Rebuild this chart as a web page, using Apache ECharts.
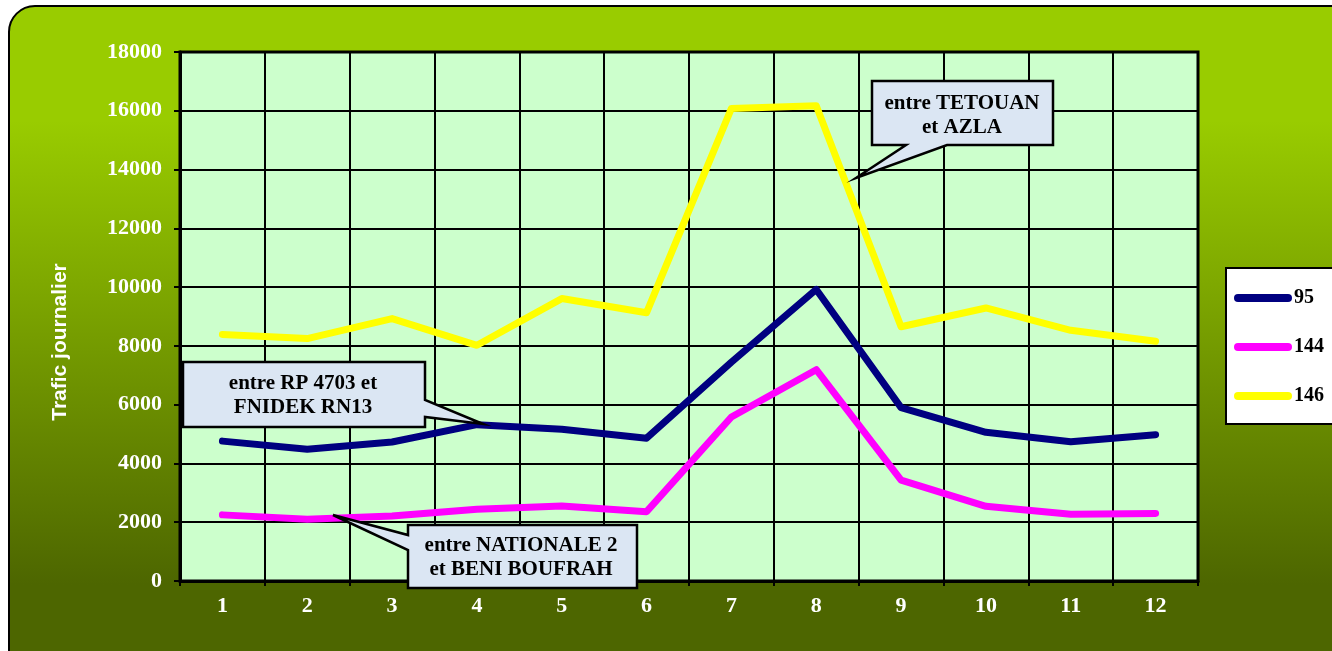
<!DOCTYPE html>
<html>
<head>
<meta charset="utf-8">
<script src="https://cdn.jsdelivr.net/npm/echarts@6/dist/echarts.min.js"></script>
<style>html,body{margin:0;padding:0;background:#fff}#c{width:1332px;height:651px}</style>
</head>
<body>
<div id="c"></div>
<script>
const categories = ['1','2','3','4','5','6','7','8','9','10','11','12'];
const seriesNames = ['95','144','146'];
const values95  = [4760, 4480, 4730, 5320, 5160, 4860, 7450, 9920, 5900, 5060, 4740, 4980];
const values144 = [2250, 2100, 2210, 2440, 2550, 2360, 5580, 7190, 3430, 2540, 2270, 2300];
const values146 = [8390, 8250, 8930, 8020, 9610, 9130, 16080, 16170, 8650, 9290, 8530, 8160];
const yTicks = {min: 0, max: 18000, interval: 2000};
const yTitle = 'Trafic journalier';
const notes = ['entre TETOUAN\net AZLA', 'entre RP 4703 et\nFNIDEK RN13', 'entre NATIONALE 2\net BENI BOUFRAH'];

const serif = 'Liberation Serif, Times New Roman, serif';
const chart = echarts.init(document.getElementById('c'));
const calloutFill = '#dbe6f3';
function callout(points, text, cx, cy) {
  return {
    type: 'group', z: 100,
    children: [
      {type: 'polygon', z: 100, shape: {points: points}, style: {fill: calloutFill, stroke: '#000', lineWidth: 2.5}},
      {type: 'text', z: 101, x: cx, y: cy, style: {text: text, fill: '#000', font: 'bold 21px ' + serif, align: 'center', verticalAlign: 'middle', lineHeight: 24}}
    ]
  };
}
const mkSeries = (name, data, color) => ({
  name: name, type: 'line', data: data, symbol: 'none', smooth: false,
  lineStyle: {color: color, width: 7, cap: 'round', join: 'round'},
  itemStyle: {color: color}, z: 5
});
const pill = 'path://M4,0 L54,0 A4,4 0 0 1 54,8 L4,8 A4,4 0 0 1 4,0 Z';
chart.setOption({
  backgroundColor: '#ffffff',
  animation: false,
  graphic: [
    {type: 'rect', z: -100, shape: {x: 9, y: 6, width: 1360, height: 680, r: 26},
     style: {fill: new echarts.graphic.LinearGradient(0, 0, 0, 1, [
       {offset: 0, color: '#99cc00'}, {offset: 0.17, color: '#99cc00'},
       {offset: 0.85, color: '#4d6600'}, {offset: 1, color: '#4d6600'}]),
       stroke: '#000', lineWidth: 2}},
    {type: 'text', z: 10, x: 60, y: 342, rotation: Math.PI / 2,
     style: {text: yTitle, fill: '#fff', font: 'bold 21px Liberation Sans, Arial, sans-serif', align: 'center', verticalAlign: 'middle'}},
    callout([[872,81],[1053,81],[1053,145],[947,145],[856,178],[906,145],[872,145]], notes[0], 962, 116),
    callout([[183,362],[425,362],[425,400],[483,424],[425,417],[425,427],[183,427]], notes[1], 303, 396),
    callout([[408,525],[637,525],[637,588],[408,588],[408,550],[333,515],[408,535]], notes[2], 521, 558)
  ],
  grid: {left: 180, top: 52, width: 1018, height: 529, show: true, backgroundColor: '#ccffcc', borderColor: '#000', borderWidth: 3},
  legend: {
    orient: 'vertical', left: 1226, top: 268, itemWidth: 58, itemHeight: 8, itemGap: 29,
    padding: [20, 80, 18, 8], backgroundColor: '#fff', borderColor: '#000', borderWidth: 2,
    textStyle: {fontFamily: serif, fontWeight: 'bold', fontSize: 20, color: '#000', padding: [0, 0, 0, -3]},
    data: seriesNames.map(n => ({name: n, icon: pill}))
  },
  xAxis: {
    type: 'category', data: categories, boundaryGap: true,
    axisLine: {lineStyle: {color: '#000', width: 3}},
    axisTick: {show: true, length: 5, lineStyle: {color: '#000', width: 2}},
    splitLine: {show: true, lineStyle: {color: '#000', width: 2}},
    axisLabel: {color: '#fff', fontFamily: serif, fontWeight: 'bold', fontSize: 22, margin: 14}
  },
  yAxis: {
    type: 'value', min: yTicks.min, max: yTicks.max, interval: yTicks.interval,
    axisLine: {show: true, lineStyle: {color: '#000', width: 3}},
    axisTick: {show: true, length: 6, lineStyle: {color: '#000', width: 2}},
    splitLine: {show: true, lineStyle: {color: '#000', width: 2}},
    axisLabel: {color: '#fff', fontFamily: serif, fontWeight: 'bold', fontSize: 22, margin: 18, formatter: v => String(v)}
  },
  series: [
    mkSeries(seriesNames[0], values95, '#000080'),
    mkSeries(seriesNames[1], values144, '#ff00ff'),
    mkSeries(seriesNames[2], values146, '#ffff00')
  ]
});
</script>
</body>
</html>
